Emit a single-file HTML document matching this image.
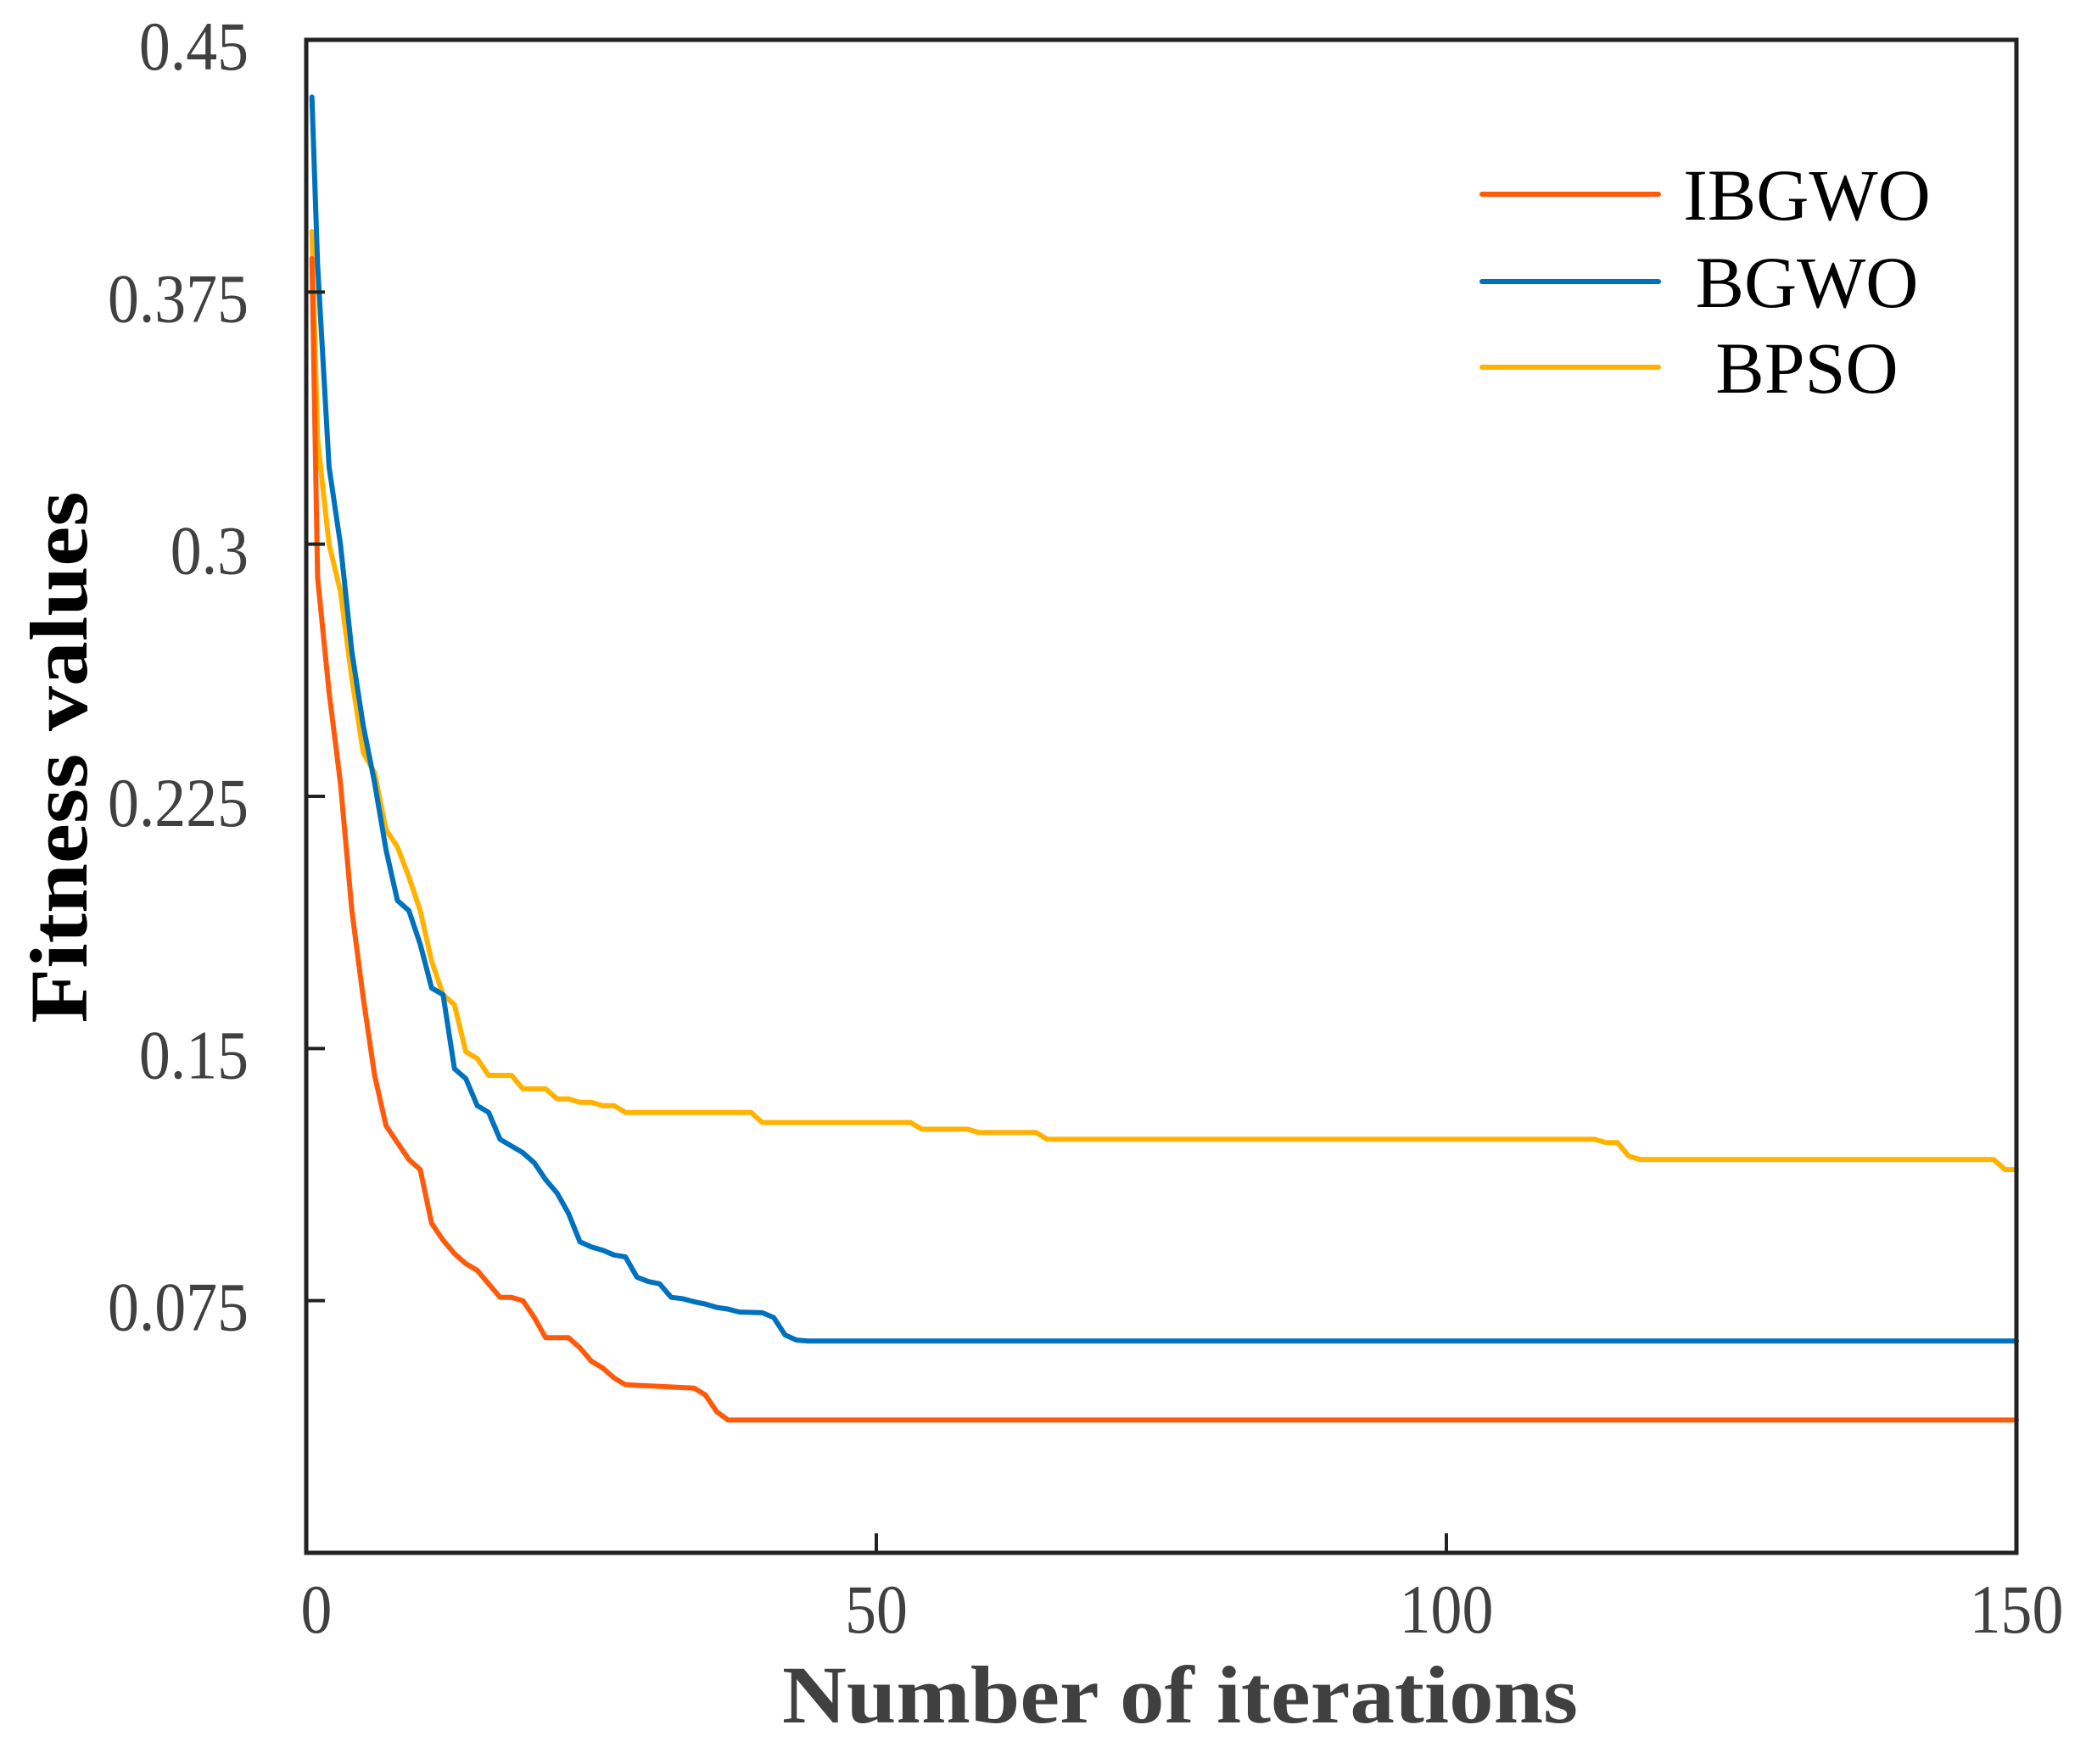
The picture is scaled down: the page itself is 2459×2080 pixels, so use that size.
<!DOCTYPE html>
<html><head><meta charset="utf-8"><style>
html,body{margin:0;padding:0;background:#fff;}
svg{display:block;}
text{font-family:"Liberation Serif",serif;}
</style></head><body>
<svg id="chart" width="2459" height="2080" viewBox="0 0 2459 2080" xmlns="http://www.w3.org/2000/svg">
<g id="plot"></g>
<g id="axes"></g>
<g id="legend"></g>
</svg>
<script>
const xTicks = [0, 50, 100, 150];
const yTicks = [0.075, 0.15, 0.225, 0.3, 0.375, 0.45];
const yTickLabels = ["0.075", "0.15", "0.225", "0.3", "0.375", "0.45"];
const seriesNames = ["IBGWO", "BGWO", "BPSO"];
const ibgwoIter = [0.5,1,2,3,4,5,6,7,8,9,10,11,12,13,14,15,16,17,18,19,20,21,23,24,25,26,27,28,31,34,35,36,37,150];
const ibgwoVals = [0.385,0.29,0.256,0.229,0.191,0.165,0.142,0.127,0.122,0.117,0.114,0.098,0.093,0.089,0.086,0.084,0.080,0.076,0.076,0.075,0.070,0.064,0.064,0.061,0.057,0.055,0.052,0.050,0.0495,0.049,0.047,0.042,0.0395,0.0395];
const bgwoIter = [0.5,1,2,3,4,5,6,7,8,9,10,11,12,13,14,15,16,17,18,19,20,21,22,23,24,25,26,27,28,29,30,31,32,33,34,35,36,37,38,40,41,42,43,44,150];
const bgwoVals = [0.433,0.383,0.323,0.30,0.268,0.246,0.229,0.209,0.194,0.191,0.181,0.168,0.166,0.144,0.141,0.133,0.131,0.123,0.121,0.119,0.116,0.111,0.107,0.101,0.0925,0.091,0.090,0.0886,0.088,0.082,0.0807,0.080,0.076,0.0756,0.0747,0.074,0.073,0.0725,0.0716,0.0714,0.070,0.0648,0.0633,0.063,0.063];
const bpsoIter = [0.5,1,2,3,4,5,6,7,8,9,10,11,12,13,14,15,16,18,19,21,22,23,24,25,26,27,28,39,40,53,54,58,59,64,65,113,114,115,116,117,148,149,150];
const bpsoVals = [0.393,0.331,0.300,0.286,0.260,0.238,0.232,0.215,0.210,0.201,0.191,0.176,0.166,0.163,0.149,0.147,0.142,0.142,0.138,0.138,0.135,0.135,0.134,0.134,0.133,0.133,0.131,0.131,0.128,0.128,0.126,0.126,0.125,0.125,0.123,0.123,0.122,0.122,0.118,0.117,0.117,0.114,0.114];

const NS = "http://www.w3.org/2000/svg";
const L = 361, R = 2377, T = 47, B = 1831;
const xMax = 150, yMin = 0, yMax = 0.45;
function sx(v){ return L + (v / xMax) * (R - L); }
function sy(v){ return B - (v - yMin) / (yMax - yMin) * (B - T); }
function mk(tag, attrs, parent){
  const e = document.createElementNS(NS, tag);
  for (const k in attrs) e.setAttribute(k, attrs[k]);
  parent.appendChild(e);
  return e;
}
const plot = document.getElementById('plot');
const axes = document.getElementById('axes');
const legend = document.getElementById('legend');
const colors = ["#FF5A0A", "#0072BD", "#FFB300"];
const data = [[ibgwoIter, ibgwoVals], [bgwoIter, bgwoVals], [bpsoIter, bpsoVals]];
const seriesKeys = ["ibgwo", "bgwo", "bpso"];
[2,1,0].forEach(function(i){
  const it = data[i][0], vals = data[i][1];
  const pts = it.map(function(x, j){ return sx(x).toFixed(1) + ',' + sy(vals[j]).toFixed(1); }).join(' ');
  const pl = mk('polyline', {points: pts, fill: 'none', stroke: colors[i], 'stroke-width': 6, 'stroke-linejoin': 'round', 'stroke-linecap': 'round'}, plot);
  
  
});
const frame = mk('rect', {x: L, y: T, width: R - L, height: B - T, fill: 'none', stroke: '#222', 'stroke-width': 5}, axes);


xTicks.forEach(function(v){
  const t = mk('line', {x1: sx(v), x2: sx(v), y1: B, y2: B - 23, stroke: '#222', 'stroke-width': 4}, axes);
  
  
  const lb = mk('text', {x: 0, y: 0, 'font-size': 82, fill: '#404040', 'text-anchor': 'middle', transform: 'translate(' + (sx(v) + (v === 0 ? 12 : 0)) + ',1925) scale(0.9,1)'}, axes);
  lb.textContent = String(v);
  
  
});
yTicks.forEach(function(v, i){
  const t = mk('line', {x1: L, x2: L + 22, y1: sy(v), y2: sy(v), stroke: '#222', 'stroke-width': 4}, axes);
  
  
  const lb = mk('text', {x: 0, y: 0, 'font-size': 82, fill: '#404040', 'text-anchor': 'end', transform: 'translate(293,' + (sy(v) + 35) + ') scale(0.9,1)'}, axes);
  lb.textContent = yTickLabels[i];
  
  
});
const xt = mk('text', {x: 1391, y: 2031, 'font-size': 96, 'font-weight': 'bold', fill: '#404040', 'text-anchor': 'middle', textLength: 938, lengthAdjust: 'spacingAndGlyphs'}, axes);
xt.textContent = 'Number of iterations';


const yt = mk('text', {x: 0, y: 0, 'font-size': 96, 'font-weight': 'bold', fill: '#000', 'text-anchor': 'middle', transform: 'translate(102,893) rotate(-90)', textLength: 627, lengthAdjust: 'spacingAndGlyphs'}, axes);
yt.textContent = 'Fitness values';


const legY = [229, 332, 433];
seriesNames.forEach(function(n, i){
  const g = mk('g', {}, legend);
  
  
  const ln = mk('line', {x1: 1747, x2: 1955, y1: legY[i], y2: legY[i], stroke: colors[i], 'stroke-width': 6, 'stroke-linecap': 'round'}, g);
  
  
  const tx = mk('text', {x: 2130, y: legY[i] + 30, 'font-size': 86, fill: '#000', 'text-anchor': 'middle'}, g);
  tx.textContent = n;
  
  
});
</script>
</body></html>
